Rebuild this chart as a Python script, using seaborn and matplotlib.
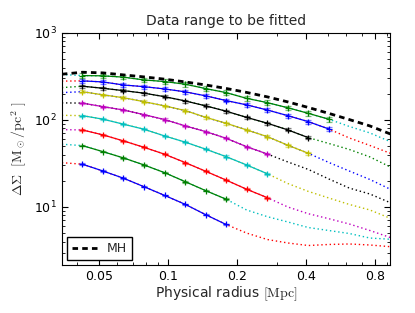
import matplotlib
matplotlib.use("Agg")
import matplotlib.pyplot as plt
import seaborn as sns
from matplotlib.colors import to_rgba
from matplotlib.ticker import LogLocator, NullFormatter

# ── data ─────────────────────────────────────────────────────────────────────
# radial grid (Mpc); measured bins are radius[1:], outer two + inner one are model only
radius = [0.0344, 0.0423, 0.0520, 0.0639, 0.0785, 0.0965, 0.119, 0.146, 0.179,
          0.220, 0.271, 0.333, 0.409, 0.502, 0.617, 0.759, 0.932]

# measured ΔΣ per stack, bottom to top
ds_1 = [31.0, 25.9, 21.4, 17.1, 13.6, 10.7, 8.15, 6.3]
ds_2 = [50.7, 43.2, 36.6, 30.4, 24.8, 19.5, 15.4, 12.3]
ds_3 = [76.7, 67.3, 57.4, 48.5, 40.4, 32.3, 25.7, 20.4, 16.0, 12.8]
ds_4 = [112, 102, 89.3, 78.2, 65.5, 55.5, 46.1, 37.9, 30.4, 24.1]
ds_5 = [156, 142, 130, 115, 101, 85.3, 73.4, 61.6, 49.3, 40.6]
ds_6 = [211, 194, 180, 162, 145, 128, 107, 91.6, 76.8, 64.3, 51.2, 41.4]
ds_7 = [244, 231, 217, 203, 185, 165, 145, 126, 107, 91.6, 76.8, 62.6]
ds_8 = [281, 273, 252, 241, 227, 210, 189, 167, 149, 130, 112, 95.5, 78.8]
ds_9 = [323, 321, 310, 288, 276, 257, 229, 206, 177, 158, 138, 119, 102]
measured = [ds_1, ds_2, ds_3, ds_4, ds_5, ds_6, ds_7, ds_8, ds_9]
err_frac = [0.02, 0.02, 0.025, 0.03, 0.03, 0.035, 0.04, 0.05, 0.06]
data_colors = ["b", "g", "r", "c", "m", "y", "k", "b", "g"]

# model curves over the full grid
mod_1 = [32.3, 31.0, 25.9, 21.4, 17.1, 13.6, 10.7, 8.15, 6.3,
         5.02, 4.23, 3.86, 3.61, 3.71, 3.76, 3.66, 3.50]
mod_2 = [52.6, 50.7, 43.2, 36.6, 30.4, 24.8, 19.5, 15.4, 12.3,
         9.24, 7.74, 6.73, 5.81, 5.37, 4.96, 4.40, 4.26]
mod_3 = [77.4, 76.7, 67.3, 57.4, 48.5, 40.4, 32.3, 25.7, 20.4, 16.0, 12.8,
         10.0, 8.37, 7.34, 6.38, 5.37, 4.46]
mod_4 = [113, 112, 102, 89.3, 78.2, 65.5, 55.5, 46.1, 37.9, 30.4, 24.1,
         18.6, 15.1, 12.7, 10.7, 9.24, 7.41]
mod_5 = [157, 156, 142, 130, 115, 101, 85.3, 73.4, 61.6, 49.3, 40.6,
         32.9, 27.0, 21.0, 16.5, 14.1, 11.2]
mod_6 = [206, 211, 194, 180, 162, 145, 128, 107, 91.6, 76.8, 64.3, 51.2, 41.4,
         32.5, 25.9, 20.7, 16.0]
mod_7 = [235, 244, 231, 217, 203, 185, 165, 145, 126, 107, 91.6, 76.8, 62.6,
         53.7, 45.8, 37.6, 28.8]
mod_8 = [279, 281, 273, 252, 241, 227, 210, 189, 167, 149, 130, 112, 95.5, 78.8,
         62.1, 50.9, 41.4]
mod_9 = [332, 323, 321, 310, 288, 276, 257, 229, 206, 177, 158, 138, 119, 102,
         84.2, 70.9, 56.3]
models = [mod_1, mod_2, mod_3, mod_4, mod_5, mod_6, mod_7, mod_8, mod_9]
model_colors = ["r", "c", "m", "y", "k", "b", "g", "r", "c"]

mh = [335, 353, 347, 329, 312, 294, 273, 252, 230, 207, 184, 161, 139,
      119, 101, 85.3, 69.0]

# ── style ────────────────────────────────────────────────────────────────────
sns.set_style("ticks", {"axes.edgecolor": "black", "xtick.color": "black",
                        "ytick.color": "black", "xtick.direction": "in",
                        "ytick.direction": "in"})
plt.rcParams["font.family"] = ["DejaVu Sans"]
plt.rcParams["mathtext.fontset"] = "dejavusans"

fig = plt.figure(figsize=(4.15, 3.13), dpi=100)
ax = fig.add_axes([0.149, 0.153, 0.791, 0.742])

# ── model lines (dotted) ─────────────────────────────────────────────────────
for vals, c in zip(models, model_colors):
    sns.lineplot(x=radius, y=vals, color=c, lw=1, linestyle=(0, (1, 2)),
                 ax=ax, zorder=1)

sns.lineplot(x=radius, y=mh, color="k", lw=2, linestyle=(0, (2, 1.5)),
             ax=ax, zorder=4)
mh_line = ax.lines[-1]

# ── measurements ─────────────────────────────────────────────────────────────
for vals, c, ef in zip(measured, data_colors, err_frac):
    r = radius[1:1 + len(vals)]
    ax.errorbar(r, vals, yerr=[v * ef for v in vals], color=c, marker="+",
                ms=4, mew=0.9, lw=0.9, capsize=2, elinewidth=0.9,
                ecolor=to_rgba(c, 0.5), zorder=3)

ax.set_xscale("log")
ax.set_yscale("log")
ax.set_xlim(0.0344, 0.93)
ax.set_ylim(2.15, 1000)

ax.set_xticks([0.05, 0.1, 0.2, 0.4, 0.8], labels=["0.05", "0.1", "0.2", "0.4", "0.8"])
ax.xaxis.set_minor_locator(LogLocator(base=10, subs=range(1, 10)))
ax.xaxis.set_minor_formatter(NullFormatter())
ax.tick_params(which="both", top=True, right=True, direction="in", labelsize=9)
ax.tick_params(which="major", length=4)
ax.tick_params(which="minor", length=2)

ax.set_title("Data range to be fitted", fontsize=10)
ax.set_xlabel(r"Physical radius $[\mathrm{Mpc}]$", fontsize=10,
              math_fontfamily="cm", labelpad=1)
ax.set_ylabel(r"$\Delta\Sigma\ \ [\mathrm{M}_\odot/\mathrm{pc}^2\ ]$", fontsize=10,
              math_fontfamily="cm")

leg = ax.legend([mh_line], ["MH"], loc="lower left", fontsize=9,
                fancybox=False, framealpha=1, edgecolor="black",
                handlelength=2.0, borderaxespad=0.4)
leg.get_frame().set_linewidth(1)

fig.savefig("out.png", dpi=100)
